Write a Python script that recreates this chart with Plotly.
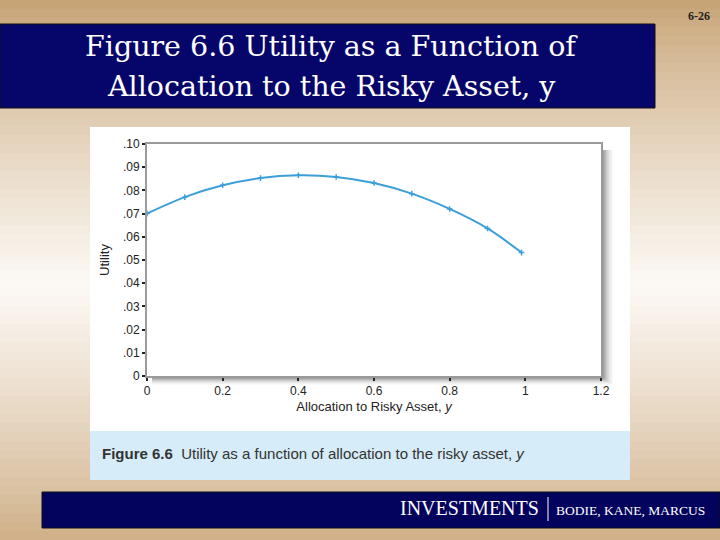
import plotly.graph_objects as go

# allocation to risky asset and resulting utility
alloc = [0.0, 0.1, 0.2, 0.3, 0.4, 0.5, 0.6, 0.7, 0.8, 0.9, 0.99]
utility = [0.0700, 0.0771, 0.0822, 0.0853, 0.0865, 0.0858, 0.0832, 0.0786, 0.0720, 0.0636, 0.0532]

x_ticks = [0, 0.2, 0.4, 0.6, 0.8, 1.0, 1.2]
x_tick_text = ["0", "0.2", "0.4", "0.6", "0.8", "1", "1.2"]
y_ticks = [0, 0.01, 0.02, 0.03, 0.04, 0.05, 0.06, 0.07, 0.08, 0.09, 0.10]
y_tick_text = ["0", ".01", ".02", ".03", ".04", ".05", ".06", ".07", ".08", ".09", ".10"]

title_lines = ["Figure 6.6 Utility as a Function of", "Allocation to the Risky Asset, y"]

W, H = 720, 540


def px(x0, y0, x1, y1):
    # pixel box (top-left origin) -> paper coords
    return dict(xref="paper", yref="paper", x0=x0 / W, x1=x1 / W,
                y0=1 - y1 / H, y1=1 - y0 / H)


shapes = []

# slide background: tan -> near white -> tan
tan = (198, 161, 114)
light = (253, 250, 246)
n = 60
for i in range(n):
    yc = (i + 0.5) * H / n
    f = max(0.0, 1 - abs(yc - 285) / 285) ** 0.8
    c = tuple(int(tan[k] + (light[k] - tan[k]) * f) for k in range(3))
    shapes.append(dict(type="rect", layer="below", line=dict(width=0),
                       fillcolor="rgb(%d,%d,%d)" % c,
                       **px(0, i * H / n, W, (i + 1) * H / n + 1)))

# title box
shapes.append(dict(type="rect", layer="below", fillcolor="#06066a",
                   line=dict(color="#111", width=1), **px(0, 24, 655, 108)))
# figure image (white) and caption band
shapes.append(dict(type="rect", layer="below", fillcolor="white",
                   line=dict(width=0), **px(90, 127, 630, 431)))
shapes.append(dict(type="rect", layer="below", fillcolor="#d6ecf8",
                   line=dict(width=0), **px(90, 431, 630, 480)))
# plot frame shadow
for k, op in enumerate([0.14, 0.11, 0.09, 0.07, 0.05, 0.04, 0.03, 0.02]):
    shapes.append(dict(type="rect", layer="below", fillcolor="black", opacity=op,
                       line=dict(width=0), **px(152, 150, 603 + k * 1.5, 378 + k)))
shapes.append(dict(type="rect", layer="below", fillcolor="white",
                   line=dict(width=0), **px(147, 144, 601, 376)))
# footer bar
shapes.append(dict(type="rect", layer="below", fillcolor="#03035e",
                   line=dict(color="#111", width=1), **px(42, 492, 720, 528)))
shapes.append(dict(type="line", line=dict(color="white", width=1),
                   **px(548, 497, 548, 521)))

fig = go.Figure()
fig.add_trace(go.Scatter(
    x=alloc, y=utility, mode="lines+markers",
    line=dict(color="#3b9fd8", width=2, shape="spline"),
    marker=dict(symbol="cross-thin", size=4, color="#3b9fd8",
                line=dict(color="#3b9fd8", width=1.5)),
    hoverinfo="x+y", showlegend=False,
))

sans = "Liberation Sans"
annotations = []
for line_text, ypix in zip(title_lines, [47, 87]):
    annotations.append(dict(text=line_text, x=331 / W, y=1 - ypix / H,
                            xref="paper", yref="paper", showarrow=False,
                            font=dict(family="DejaVu Serif", size=28.5, color="white"),
                            xanchor="center", yanchor="middle"))
annotations += [
    dict(text="<b>6-26</b>", x=712 / W, y=1 - 16 / H, xref="paper", yref="paper",
         showarrow=False, xanchor="right", yanchor="middle",
         font=dict(family="Liberation Serif", size=12, color="#222")),
    dict(text="<b>Figure 6.6</b>  Utility as a function of allocation to the risky asset, <i>y</i>",
         x=100 / W, y=1 - 453 / H, xref="paper", yref="paper", showarrow=False,
         xanchor="left", yanchor="middle",
         font=dict(family=sans, size=15, color="#333")),
    dict(text="INVESTMENTS", x=541 / W, y=1 - 508 / H, xref="paper", yref="paper",
         showarrow=False, xanchor="right", yanchor="middle",
         font=dict(family="Liberation Serif", size=20, color="white")),
    dict(text="BODIE, KANE, MARCUS", x=707 / W, y=1 - 510 / H, xref="paper", yref="paper",
         showarrow=False, xanchor="right", yanchor="middle",
         font=dict(family="Liberation Serif", size=13.5, color="white")),
]

axis_font = dict(family=sans, size=12, color="#222")
fig.update_layout(
    width=W, height=H,
    margin=dict(l=0, r=0, t=0, b=0, autoexpand=False),
    paper_bgcolor="#c6a172", plot_bgcolor="rgba(0,0,0,0)",
    shapes=shapes, annotations=annotations,
    xaxis=dict(domain=[147 / W, 601 / W], range=[0, 1.2], automargin=False,
               tickvals=x_ticks, ticktext=x_tick_text,
               showgrid=False, zeroline=False,
               showline=True, mirror=True, linecolor="#9a9a9a", linewidth=2,
               ticks="outside", ticklen=3, tickwidth=2, tickcolor="#222",
               tickfont=axis_font,
               title=dict(text="Allocation to Risky Asset, <i>y</i>", standoff=4,
                          font=dict(family=sans, size=13, color="#222"))),
    yaxis=dict(domain=[1 - 376 / H, 1 - 144 / H], range=[0, 0.10], automargin=False,
               tickvals=y_ticks, ticktext=y_tick_text,
               showgrid=False, zeroline=False,
               showline=True, mirror=True, linecolor="#9a9a9a", linewidth=2,
               ticks="outside", ticklen=3, tickwidth=2, tickcolor="#222",
               tickfont=axis_font,
               title=dict(text="Utility", standoff=10,
                          font=dict(family=sans, size=13, color="#222"))),
)

fig.write_html("out.html", config={"displayModeBar": False},
               post_script="document.body.style.margin='0';")
